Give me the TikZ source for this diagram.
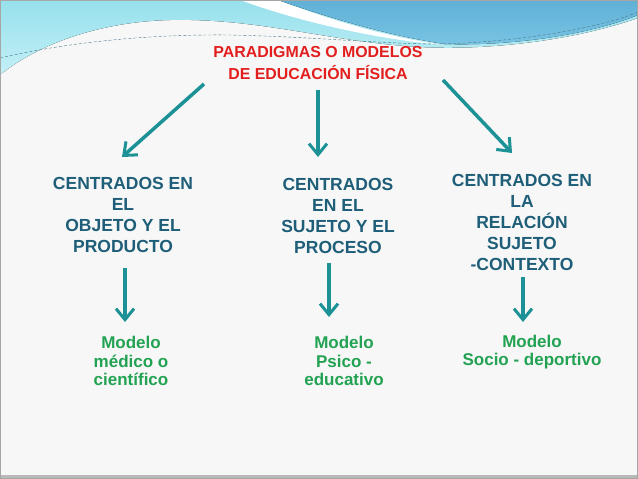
\documentclass[tikz,border=0pt]{standalone}
\usepackage{fontspec}
\setmainfont{Liberation Sans}
\usetikzlibrary{arrows.meta}

\definecolor{slidebg}{RGB}{247,247,247}
\definecolor{wavecyan}{RGB}{150,224,236}
\definecolor{wavecyanlt}{RGB}{196,240,246}
\definecolor{waveblue}{RGB}{120,196,228}
\definecolor{waveblueDk}{RGB}{96,176,214}
\definecolor{wavedash}{RGB}{70,120,135}
\definecolor{titlered}{RGB}{226,30,30}
\definecolor{textteal}{RGB}{30,94,120}
\definecolor{arrowteal}{RGB}{28,146,150}
\definecolor{modelgreen}{RGB}{34,162,82}

\begin{document}
\begin{tikzpicture}[
  x=1pt, y=-1pt,
  every node/.style={font=\bfseries, align=center, inner sep=0pt},
  titulo/.style={text=titlered, font=\fontsize{15.9}{22}\selectfont\bfseries},
  paradigma/.style={text=textteal, font=\fontsize{17.5}{21}\selectfont\bfseries},
  modelo/.style={text=modelgreen, font=\fontsize{17}{18.5}\selectfont\bfseries},
  flecha/.style={line width=3.5pt, draw=arrowteal, -{Straight Barb[length=11pt,width=18pt,line width=3pt]}}
]
\useasboundingbox (0,0) rectangle (638,479);

% ---------- Slide background ----------
\fill[slidebg] (0,0) rectangle (638,479);

% ---------- Top wave decoration ----------
\fill[top color=wavecyan, bottom color=wavecyanlt] (0,0) -- (638,0) -- (638,18)
  .. controls (560,45) and (470,50) .. (420,47)
  .. controls (330,42) and (260,18) .. (170,20)
  .. controls (90,22) and (30,50) .. (0,75) -- cycle;
\fill[white] (240,0) -- (278,0) .. controls (330,20) and (390,38) .. (445,45)
  .. controls (380,40) and (300,22) .. (240,0) -- cycle; % white streak
\fill[top color=waveblueDk, bottom color=waveblue] (278,0) -- (638,0) -- (638,15)
  .. controls (580,38) and (500,46) .. (445,44)
  .. controls (390,36) and (330,18) .. (278,0) -- cycle; % blue band
\draw[wavedash, thin, dash pattern=on 3pt off 2pt] (0,58)
  .. controls (60,44) and (140,34) .. (230,35)
  .. controls (320,37) and (380,44) .. (440,44)
  .. controls (520,42) and (600,28) .. (638,12);

% ---------- Title ----------
\node[titulo] (title) at (318,63) {PARADIGMAS O MODELOS\\DE EDUCACIÓN FÍSICA};

% ---------- Paradigms ----------
\node[paradigma] (objeto) at (123,215) {CENTRADOS EN\\EL\\OBJETO Y EL\\PRODUCTO};
\node[paradigma] (sujeto) at (338,216) {CENTRADOS\\EN EL\\SUJETO Y EL\\PROCESO};
\node[paradigma] (relacion) at (522,222) {CENTRADOS EN\\LA\\RELACIÓN\\SUJETO\\-CONTEXTO};

% ---------- Models ----------
\node[modelo] (medico) at (131,361) {Modelo\\médico o\\científico};
\node[modelo] (psico) at (344,361) {Modelo\\Psico -\\educativo};
\node[modelo] (socio) at (532,352) {Modelo\\Socio - deportivo};

% ---------- Arrow ends ----------
\coordinate (t1) at (204,84);
\coordinate (t2) at (318,90);
\coordinate (t3) at (443,80);
\coordinate (p1) at (122,157);
\coordinate (p2) at (318,157);
\coordinate (p3) at (512,153);
\coordinate (q1) at (125,268);
\coordinate (q2) at (329,263);
\coordinate (q3) at (523,277);
\coordinate (m1) at (125,322);
\coordinate (m2) at (329,317);
\coordinate (m3) at (523,322);

% ---------- Arrows ----------
\draw[flecha] (t1) -- (p1);
\draw[flecha] (t2) -- (p2);
\draw[flecha] (t3) -- (p3);
\draw[flecha] (q1) -- (m1);
\draw[flecha] (q2) -- (m2);
\draw[flecha] (q3) -- (m3);

% ---------- Frame ----------
\fill[gray!55] (0,475) rectangle (638,479);
\draw[gray!70, line width=1pt] (0.5,0.5) rectangle (637.5,478.5);

\end{tikzpicture}
\end{document}
